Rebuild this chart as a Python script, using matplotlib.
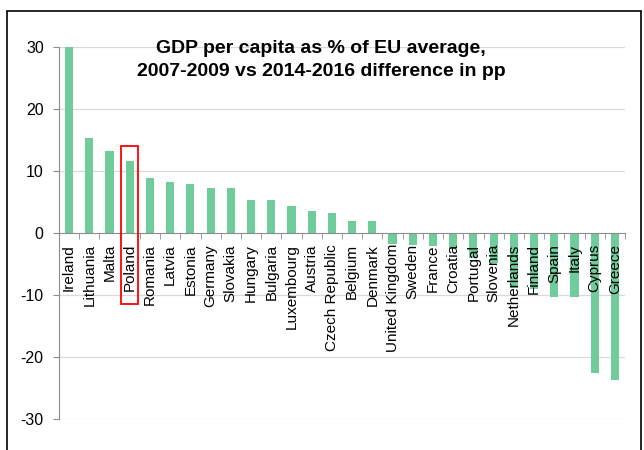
import matplotlib
matplotlib.use("Agg")
import matplotlib.pyplot as plt
from matplotlib.patches import Rectangle
import numpy as np

plt.rcParams['font.family'] = ['Liberation Sans', 'DejaVu Sans']

countries = ["Ireland", "Lithuania", "Malta", "Poland", "Romania", "Latvia", "Estonia",
             "Germany", "Slovakia", "Hungary", "Bulgaria", "Luxembourg", "Austria",
             "Czech Republic", "Belgium", "Denmark", "United Kingdom", "Sweden", "France",
             "Croatia", "Portugal", "Slovenia", "Netherlands", "Finland", "Spain", "Italy",
             "Cyprus", "Greece"]
diff_pp = [31.0, 15.3, 13.2, 11.6, 8.9, 8.2, 7.9, 7.3, 7.3, 5.3, 5.3, 4.3, 3.6,
           3.3, 1.9, 1.9, -1.7, -1.9, -2.1, -2.5, -4.0, -4.9, -8.9, -9.0, -10.3, -10.3,
           -22.6, -23.7]
y_ticks = [-30, -20, -10, 0, 10, 20, 30]
highlight = "Poland"

bar_color = "#70CD9B"
axis_gray = "#8c8c8c"

fig = plt.figure(figsize=(6.44, 4.5), dpi=100)
ax = fig.add_axes([59 / 644, 1 - 419 / 450, 566 / 644, 372 / 450])

# gridlines behind the bars, tick labels stay on top
for t in y_ticks:
    if t != 0:
        ax.axhline(t, color="#d9d9d9", linewidth=0.9, zorder=0.5)

x = np.arange(len(countries))
ax.bar(x, diff_pp, width=0.4, color=bar_color, zorder=1)

ax.set_xlim(-0.5, len(countries) - 0.5)
ax.set_ylim(-30, 30)
ax.set_yticks(y_ticks)
ax.set_yticklabels([str(t) for t in y_ticks], fontsize=11.5)

# x axis sits on the zero line
ax.spines["bottom"].set_position(("data", 0))
ax.spines["bottom"].set_color(axis_gray)
ax.spines["left"].set_color(axis_gray)
ax.spines["top"].set_visible(False)
ax.spines["right"].set_visible(False)

ax.set_xticks(x)
ax.set_xticklabels(countries, rotation=90, fontsize=11, va="top")
ax.set_xticks(np.arange(len(countries) + 1) - 0.5, minor=True)
ax.tick_params(axis="x", which="major", length=0, pad=8)
ax.tick_params(axis="x", which="minor", length=4, color=axis_gray)
ax.tick_params(axis="y", length=4, color=axis_gray, pad=7)

# red box around Poland
p = countries.index(highlight)
ax.add_patch(Rectangle((p - 0.45, -11.4), 0.88, 25.4, fill=False, edgecolor="red",
                       linewidth=1.3, clip_on=False, zorder=5))

ax.text(0.463, 0.965, "GDP per capita as % of EU average,\n2007-2009 vs 2014-2016 difference in pp",
        transform=ax.transAxes, ha="center", va="center", fontsize=14, fontweight="bold",
        linespacing=1.4)

# outer frame
fig.patches.append(Rectangle((7 / 644, -0.1), 634 / 644, 1.1 - 11 / 450, fill=False,
                             edgecolor="black", linewidth=1.2, transform=fig.transFigure))

fig.savefig("out.png", dpi=100)
